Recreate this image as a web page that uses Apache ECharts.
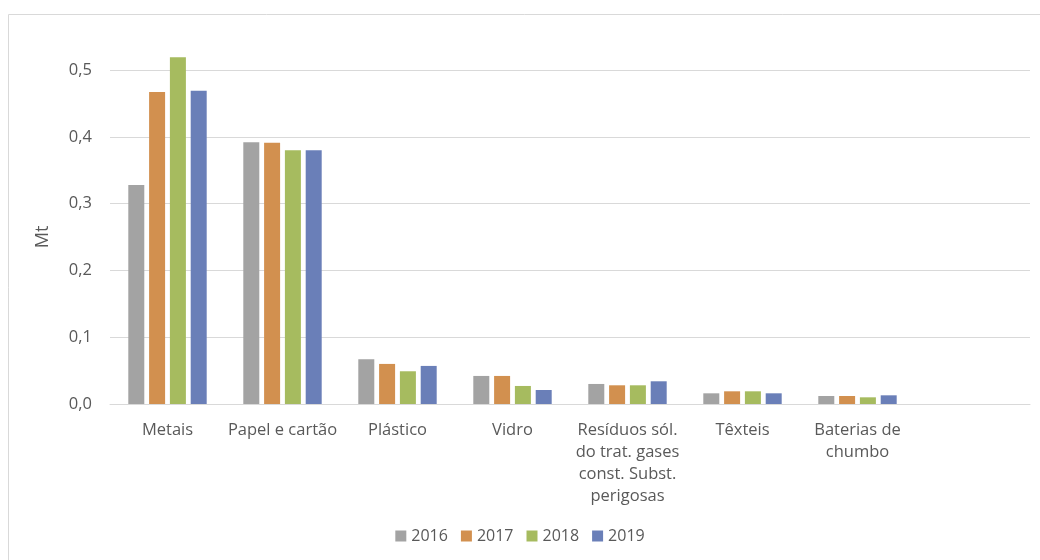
<!DOCTYPE html>
<html>
<head>
<meta charset="utf-8">
<script src="https://cdn.jsdelivr.net/npm/echarts@6/dist/echarts.min.js"></script>
<style>
  html, body { margin: 0; padding: 0; background: #fff; }
  #chart { width: 1040px; height: 560px; }
</style>
</head>
<body>
<div id="chart"></div>
<script>
const categories = [
  'Metais',
  'Papel e cartão',
  'Plástico',
  'Vidro',
  'Resíduos sól.\ndo trat. gases\nconst. Subst.\nperigosas',
  'Têxteis',
  'Baterias de\nchumbo',
  '',
];
const years = ['2016', '2017', '2018', '2019'];
const v2016 = [0.328, 0.392, 0.067, 0.042, 0.030, 0.016, 0.012];
const v2017 = [0.467, 0.391, 0.060, 0.042, 0.028, 0.019, 0.012];
const v2018 = [0.519, 0.380, 0.049, 0.027, 0.028, 0.019, 0.010];
const v2019 = [0.469, 0.380, 0.057, 0.021, 0.034, 0.016, 0.013];
const colors = ['#a3a3a3', '#d2904f', '#a6bb5f', '#6a7fb8'];

const chart = echarts.init(document.getElementById('chart'));
const font = 'Open Sans';

const option = {
  animation: false,
  color: colors,
  textStyle: { fontFamily: font },
  graphic: [
    {
      type: 'rect',
      shape: { x: 8.5, y: 14.5, width: 1100, height: 600 },
      style: { fill: 'none', stroke: '#d9d9d9', lineWidth: 1 },
      silent: true,
    },
  ],
  grid: {
    left: 110,
    right: 10,
    top: 70,
    bottom: 156,
  },
  legend: {
    data: years,
    bottom: 11,
    left: 'center',
    itemWidth: 11,
    itemHeight: 11,
    itemGap: 13,
    icon: 'rect',
    textStyle: { color: '#595959', fontSize: 16, fontFamily: font },
  },
  xAxis: {
    type: 'category',
    data: categories,
    axisLine: { lineStyle: { color: '#d9d9d9' } },
    axisTick: { show: false },
    axisLabel: {
      interval: 0,
      color: '#595959',
      fontSize: 16.5,
      lineHeight: 22,
      margin: 15,
      verticalAlign: 'top',
    },
  },
  yAxis: {
    type: 'value',
    min: 0,
    max: 0.5,
    interval: 0.1,
    name: 'Mt',
    nameLocation: 'middle',
    nameGap: 58,
    nameRotate: 90,
    nameTextStyle: { color: '#595959', fontSize: 18, fontFamily: font },
    axisLine: { show: false },
    axisTick: { show: false },
    splitLine: { lineStyle: { color: '#d9d9d9' } },
    axisLabel: {
      color: '#595959',
      fontSize: 16.5,
      margin: 18,
      formatter: (v) => v.toFixed(1).replace('.', ','),
    },
  },
  series: [v2016, v2017, v2018, v2019].map((d, i) => ({
    name: years[i],
    type: 'bar',
    data: d,
    barWidth: 16,
    barGap: '30%',
    clip: false,
  })),
};

chart.setOption(option);
</script>
</body>
</html>
